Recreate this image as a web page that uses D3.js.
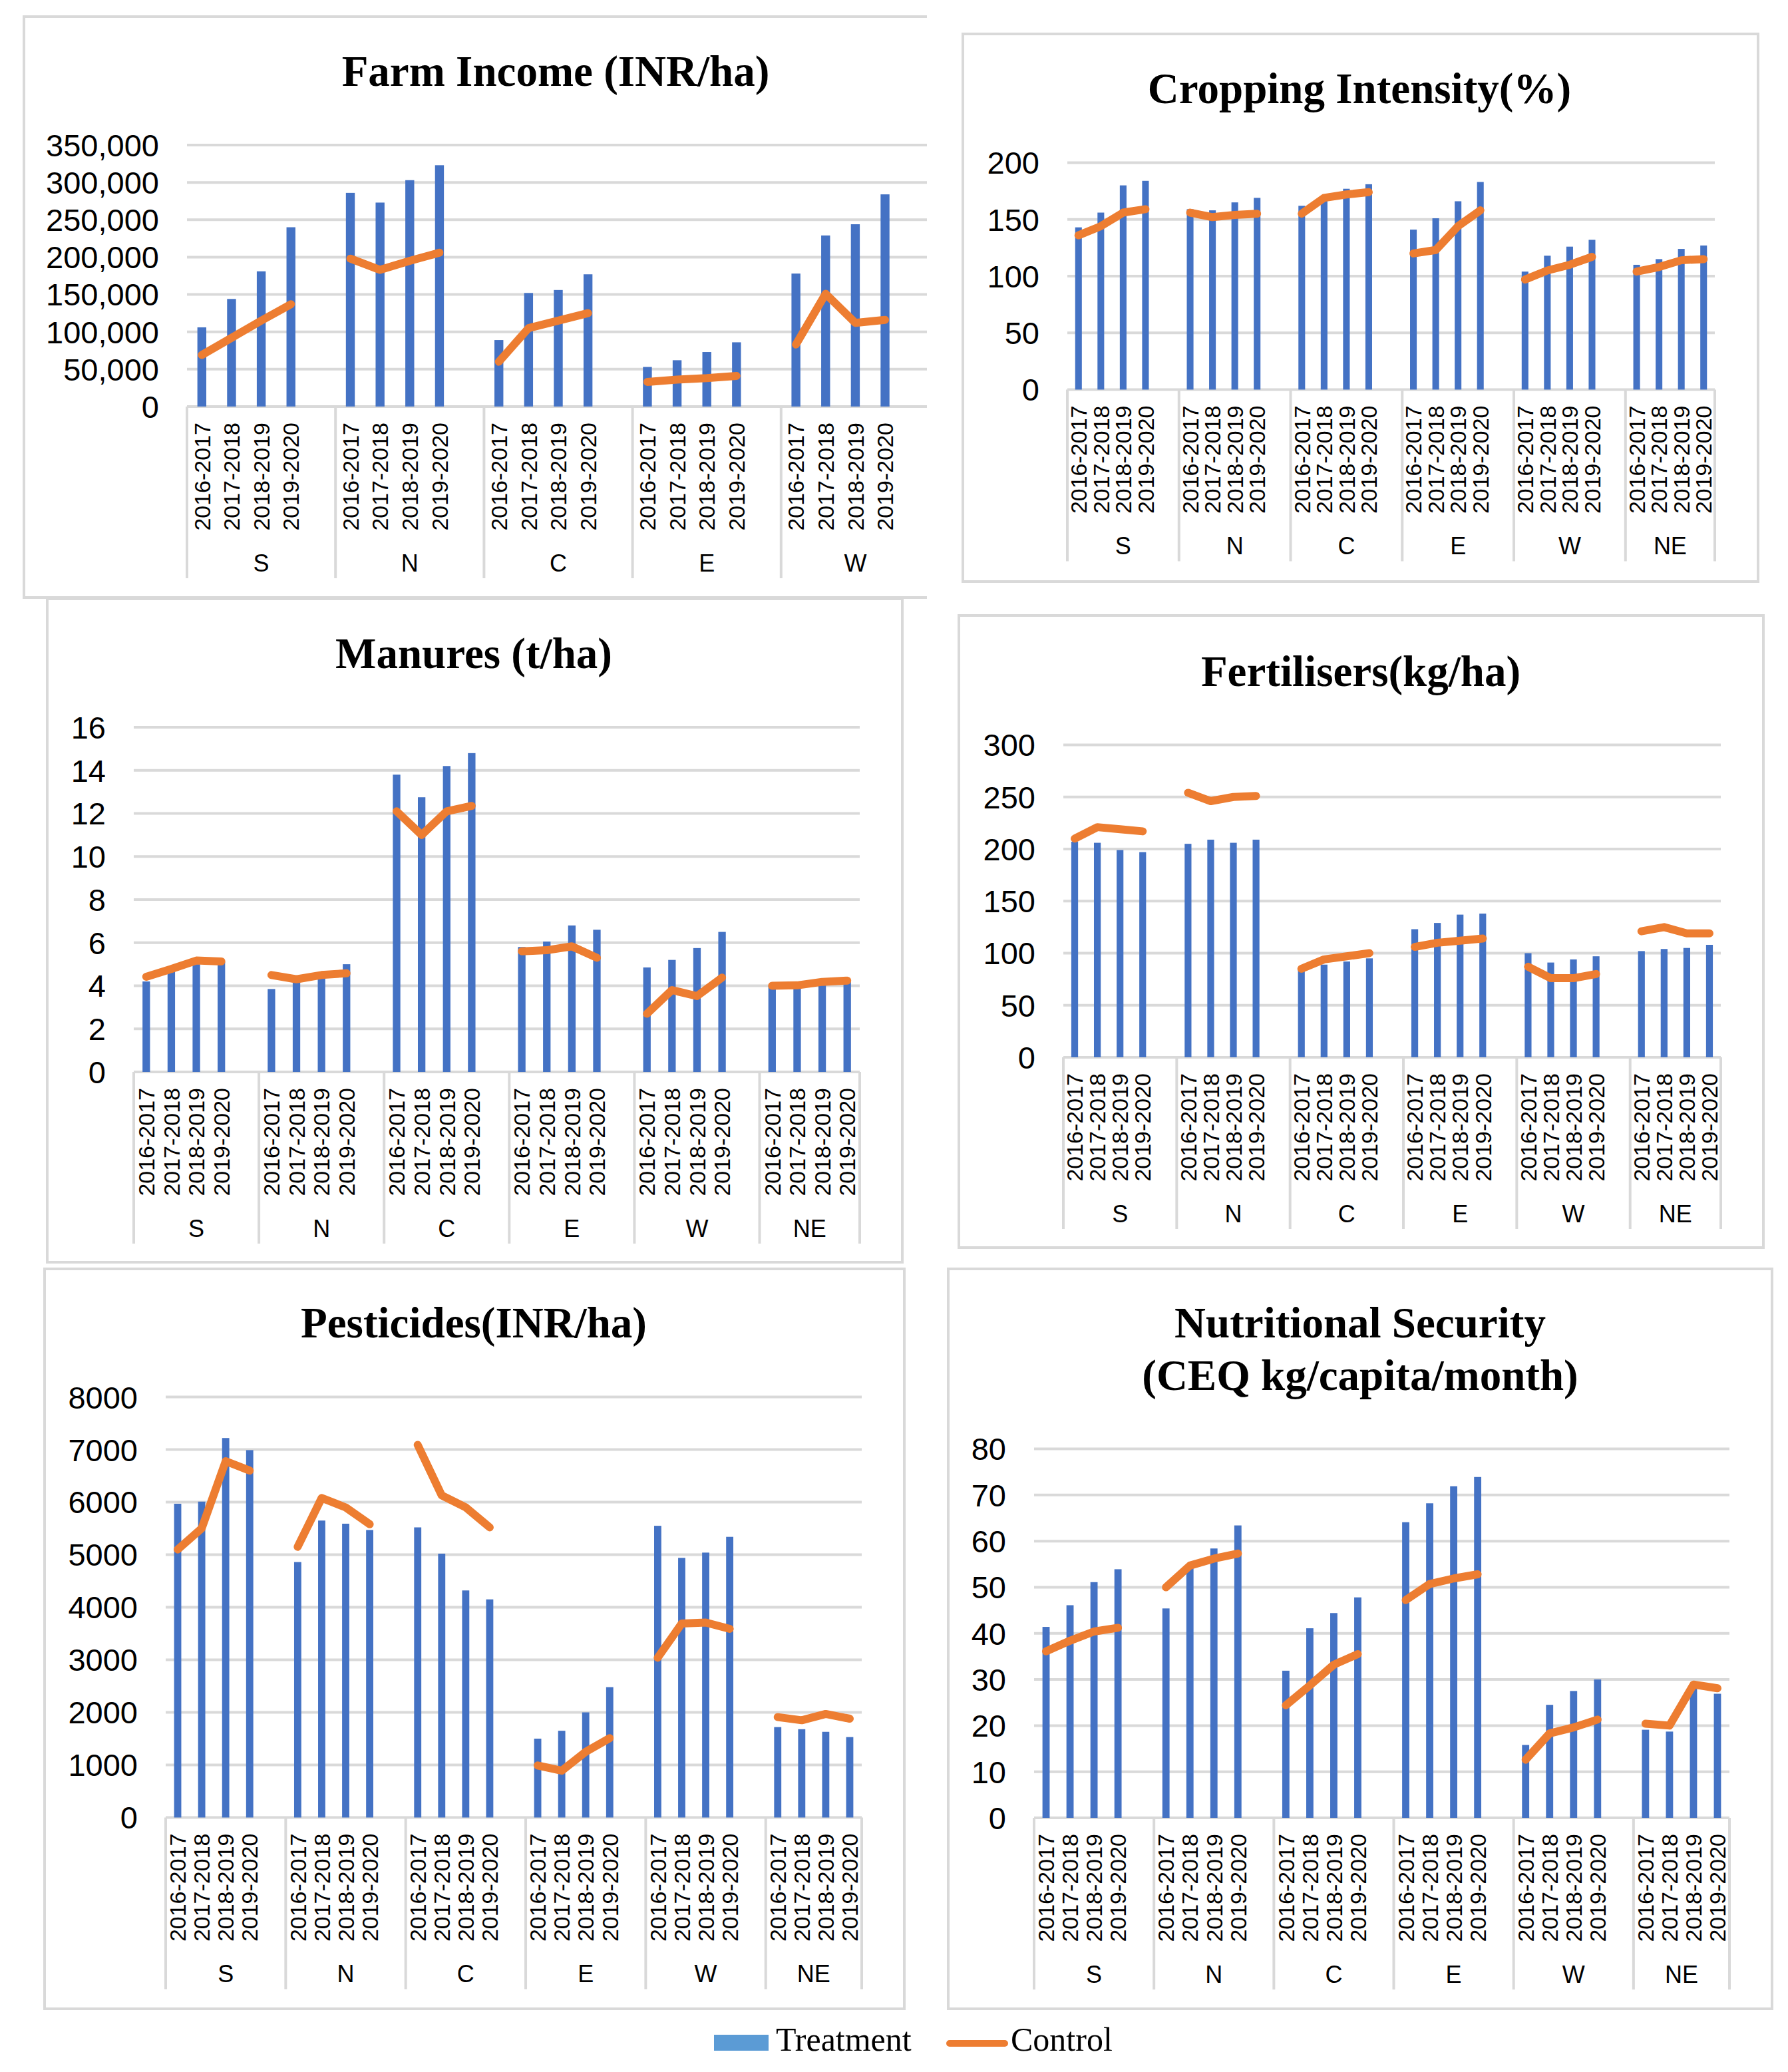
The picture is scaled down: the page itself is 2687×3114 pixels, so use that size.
<!DOCTYPE html>
<html>
<head>
<meta charset="utf-8">
<script src="https://cdn.jsdelivr.net/npm/d3@7"></script>
<style>
  body { margin: 0; background: #fff; }
  svg { display: block; }
</style>
</head>
<body>
<div id="chart-area"></div>
<script>
// categories
const years = ["2016-2017", "2017-2018", "2018-2019", "2019-2020"];
const regions5 = ["S", "N", "C", "E", "W"];
const regions6 = ["S", "N", "C", "E", "W", "NE"];

// Farm Income (INR/ha)  S, N, C, E, W
const incomeTreatment = [106000, 144000, 181000, 240000, 286000, 273000, 303000, 323000, 89000, 152000, 156000, 177000, 53000, 62000, 73000, 86000, 178000, 229000, 244000, 284000];
const incomeControl = [69000, 92000, 115000, 137000, 198000, 183000, 195000, 206000, 60000, 105000, 115000, 125000, 33000, 36000, 38000, 41000, 83000, 151000, 112000, 116000];
const incomeTicks = [0, 50000, 100000, 150000, 200000, 250000, 300000, 350000];

// Cropping Intensity (%)  S, N, C, E, W, NE
const cropTreatment = [143, 156, 180, 184, 159, 158, 165, 169, 162, 171, 177, 181, 141, 151, 166, 183, 104, 118, 126, 132, 110, 115, 124, 127];
const cropControl = [136, 144, 156, 159, 156, 152, 154, 155, 155, 169, 172, 174, 120, 123, 144, 158, 97, 105, 110, 117, 104, 108, 114, 115];
const cropTicks = [0, 50, 100, 150, 200];

// Manures (t/ha)
const manureTreatment = [4.2, 4.7, 5.0, 5.1, 3.85, 4.25, 4.4, 5.0, 13.8, 12.75, 14.2, 14.8, 5.8, 6.05, 6.8, 6.6, 4.85, 5.2, 5.75, 6.5, 4.0, 4.0, 4.1, 4.2];
const manureControl = [4.42, 4.78, 5.17, 5.13, 4.5, 4.3, 4.5, 4.58, 12.1, 11.0, 12.1, 12.35, 5.6, 5.65, 5.83, 5.3, 2.7, 3.8, 3.52, 4.38, 4.0, 4.02, 4.18, 4.24];
const manureTicks = [0, 2, 4, 6, 8, 10, 12, 14, 16];

// Fertilisers (kg/ha)
const fertTreatment = [207, 206, 199, 197, 205, 209, 206, 209, 85, 89, 92, 95, 123, 129, 137, 138, 100, 91, 94, 97, 102, 104, 105, 108];
const fertControl = [210, 221, 219, 217, 254, 246, 250, 251, 85, 94, 97, 100, 106, 110, 112, 114, 87, 76, 76, 80, 121, 125, 119, 119];
const fertTicks = [0, 50, 100, 150, 200, 250, 300];

// Pesticides (INR/ha)
const pestTreatment = [5970, 6010, 7220, 6990, 4860, 5650, 5590, 5470, 5520, 5020, 4320, 4150, 1500, 1650, 2000, 2480, 5550, 4940, 5040, 5340, 1720, 1680, 1630, 1530];
const pestControl = [5100, 5500, 6780, 6600, 5150, 6080, 5900, 5580, 7090, 6130, 5900, 5520, 990, 890, 1250, 1510, 3040, 3690, 3710, 3590, 1910, 1850, 1970, 1880];
const pestTicks = [0, 1000, 2000, 3000, 4000, 5000, 6000, 7000, 8000];

// Nutritional Security (CEQ kg/capita/month)
const nutriTreatment = [41.4, 46.1, 51.1, 53.9, 45.4, 54.5, 58.4, 63.4, 31.9, 41.1, 44.4, 47.8, 64.1, 68.2, 71.9, 73.9, 15.8, 24.5, 27.5, 30.0, 19.1, 18.7, 28.7, 26.9];
const nutriControl = [36.1, 38.4, 40.4, 41.2, 50.0, 54.7, 56.2, 57.3, 24.4, 28.7, 33.2, 35.5, 47.2, 50.7, 51.9, 52.8, 12.6, 18.3, 19.6, 21.3, 20.4, 20.0, 28.9, 28.1];
const nutriTicks = [0, 10, 20, 30, 40, 50, 60, 70, 80];

// page
let W = 2687;
let H = 3114;
let blue = "#4472C4";
let orange = "#ED7D31";
let grey = "#D9D9D9";

let svg = d3.select("#chart-area")
    .append("svg")
    .attr("width", W)
    .attr("height", H);

svg.append("defs").append("clipPath").attr("id", "clip1")
    .append("rect").attr("x", 0).attr("y", 0).attr("width", 1393).attr("height", 905);

function drawPanel(p) {
  let g = svg.append("g");
  if (p.clip) g.attr("clip-path", "url(#" + p.clip + ")");

  // frame
  g.append("rect")
      .attr("x", p.box[0]).attr("y", p.box[1])
      .attr("width", p.box[2] - p.box[0]).attr("height", p.box[3] - p.box[1])
      .attr("fill", "none").attr("stroke", grey).attr("stroke-width", 4);

  // title
  let title = g.append("text")
      .attr("text-anchor", "middle")
      .attr("font-family", "Liberation Serif, Times New Roman, serif")
      .attr("font-weight", "bold")
      .attr("font-size", 65)
      .attr("fill", "#000");
  p.title.forEach(function(t, i) {
    title.append("tspan").attr("x", p.titleX).attr("y", p.titleY[i]).text(t);
  });

  // category slots: 4 years per region, then an empty slot between regions
  let keys = [];
  p.groups.forEach(function(r, gi) {
    years.forEach(function(yr) { keys.push(r + "|" + yr); });
    if (gi < p.groups.length - 1 || p.trailingGap) keys.push(r + "|gap");
  });
  let x = d3.scaleBand()
      .domain(keys)
      .range([p.x0, p.x1]);
  let y = d3.scaleLinear()
      .domain([0, p.ticks[p.ticks.length - 1]])
      .range([p.yZero, p.yTop]);

  let rows = [];
  p.groups.forEach(function(r, gi) {
    years.forEach(function(yr, yi) {
      rows.push({region: r, year: yr, t: p.treat[gi * 4 + yi], c: p.ctrl[gi * 4 + yi]});
    });
  });
  let cx = function(d) { return x(d.region + "|" + d.year) + x.bandwidth() / 2; };
  let groupStart = function(r) { return x(r + "|" + years[0]); };
  let edges = p.groups.map(groupStart).concat([p.x1]);

  // gridlines
  g.selectAll(".grid")
      .data(p.ticks)
      .enter().append("line")
      .attr("x1", p.x0).attr("x2", p.x1)
      .attr("y1", function(d) { return y(d); })
      .attr("y2", function(d) { return y(d); })
      .attr("stroke", grey).attr("stroke-width", 4);

  // y labels
  g.selectAll(".ylab")
      .data(p.ticks)
      .enter().append("text")
      .text(function(d) { return p.fmt(d); })
      .attr("x", p.x0 - 42)
      .attr("y", function(d) { return y(d); })
      .attr("dy", "0.36em")
      .attr("text-anchor", "end")
      .attr("font-family", "Liberation Sans, Arial, sans-serif")
      .attr("font-size", 47)
      .attr("fill", "#000");

  // region dividers
  g.selectAll(".div")
      .data(edges)
      .enter().append("line")
      .attr("x1", function(d) { return d; }).attr("x2", function(d) { return d; })
      .attr("y1", p.yZero).attr("y2", p.yZero + 258)
      .attr("stroke", grey).attr("stroke-width", 4);

  // bars
  let bw = x.bandwidth() * 0.3;
  g.selectAll(".bar")
      .data(rows)
      .enter().append("rect")
      .attr("x", function(d) { return cx(d) - bw / 2; })
      .attr("y", function(d) { return y(d.t); })
      .attr("width", bw)
      .attr("height", function(d) { return p.yZero - y(d.t); })
      .attr("fill", blue);

  // control line, one piece per region
  let line = d3.line()
      .x(function(d) { return cx(d); })
      .y(function(d) { return y(d.c); });
  g.selectAll(".ctrl")
      .data(p.groups.map(function(r) { return rows.filter(function(d) { return d.region === r; }); }))
      .enter().append("path")
      .attr("d", line)
      .attr("fill", "none")
      .attr("stroke", orange)
      .attr("stroke-width", 12)
      .attr("stroke-linecap", "round")
      .attr("stroke-linejoin", "round");

  // year labels
  g.selectAll(".xlab")
      .data(rows)
      .enter().append("text")
      .text(function(d) { return d.year; })
      .attr("transform", function(d) { return "translate(" + cx(d) + "," + (p.yZero + 24) + ") rotate(-90)"; })
      .attr("text-anchor", "end")
      .attr("dy", "0.36em")
      .attr("font-family", "Liberation Sans, Arial, sans-serif")
      .attr("font-size", 34)
      .attr("fill", "#000");

  // region labels
  g.selectAll(".glab")
      .data(p.groups)
      .enter().append("text")
      .text(function(d) { return d; })
      .attr("x", function(d, i) { return (edges[i] + edges[i + 1]) / 2; })
      .attr("y", p.yZero + 235)
      .attr("dy", "0.36em")
      .attr("text-anchor", "middle")
      .attr("font-family", "Liberation Sans, Arial, sans-serif")
      .attr("font-size", 36)
      .attr("fill", "#000");
}

let comma = d3.format(",");
let plain = d3.format("d");

drawPanel({
  title: ["Farm Income (INR/ha)"], titleX: 835, titleY: [129],
  box: [36, 25, 1430, 898], clip: "clip1", trailingGap: true,
  groups: regions5, x0: 281, x1: 1397, yTop: 218, yZero: 611,
  ticks: incomeTicks, fmt: comma, treat: incomeTreatment, ctrl: incomeControl
});
drawPanel({
  title: ["Cropping Intensity(%)"], titleX: 2043, titleY: [155],
  box: [1447, 51, 2642, 874],
  groups: regions6, x0: 1604, x1: 2577, yTop: 244.5, yZero: 585.5,
  ticks: cropTicks, fmt: plain, treat: cropTreatment, ctrl: cropControl
});
drawPanel({
  title: ["Manures (t/ha)"], titleX: 712, titleY: [1004],
  box: [71, 900, 1356, 1897],
  groups: regions6, x0: 201, x1: 1292, yTop: 1093, yZero: 1611,
  ticks: manureTicks, fmt: plain, treat: manureTreatment, ctrl: manureControl
});
drawPanel({
  title: ["Fertilisers(kg/ha)"], titleX: 2045, titleY: [1031],
  box: [1441, 925, 2650, 1875],
  groups: regions6, x0: 1598, x1: 2586, yTop: 1119.5, yZero: 1589,
  ticks: fertTicks, fmt: plain, treat: fertTreatment, ctrl: fertControl
});
drawPanel({
  title: ["Pesticides(INR/ha)"], titleX: 712, titleY: [2010],
  box: [67, 1907, 1359, 3019],
  groups: regions6, x0: 249, x1: 1295, yTop: 2099.6, yZero: 2731.5,
  ticks: pestTicks, fmt: plain, treat: pestTreatment, ctrl: pestControl
});
drawPanel({
  title: ["Nutritional Security", "(CEQ kg/capita/month)"], titleX: 2044, titleY: [2010, 2089],
  box: [1425, 1907, 2663, 3019],
  groups: regions6, x0: 1554, x1: 2599, yTop: 2177.5, yZero: 2732,
  ticks: nutriTicks, fmt: plain, treat: nutriTreatment, ctrl: nutriControl
});

// legend
let legend = svg.append("g");
legend.append("rect")
    .attr("x", 1073).attr("y", 3058).attr("width", 82).attr("height", 24)
    .attr("fill", "#5B9BD5");
legend.append("text")
    .text("Treatment")
    .attr("x", 1166).attr("y", 3082)
    .attr("font-family", "Liberation Serif, Times New Roman, serif")
    .attr("font-size", 50).attr("fill", "#000");
legend.append("line")
    .attr("x1", 1427).attr("x2", 1510).attr("y1", 3071).attr("y2", 3071)
    .attr("stroke", orange).attr("stroke-width", 10).attr("stroke-linecap", "round");
legend.append("text")
    .text("Control")
    .attr("x", 1519).attr("y", 3082)
    .attr("font-family", "Liberation Serif, Times New Roman, serif")
    .attr("font-size", 50).attr("fill", "#000");
</script>
</body>
</html>
